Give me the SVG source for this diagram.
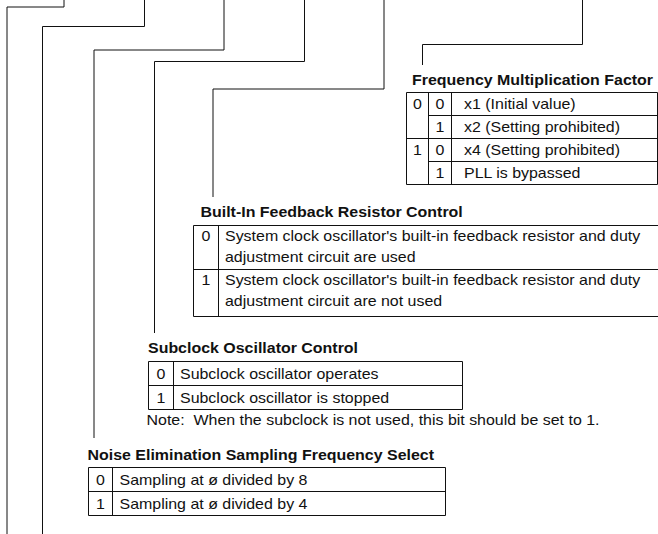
<svg xmlns="http://www.w3.org/2000/svg" width="658" height="534" viewBox="0 0 658 534">
<style>
.t{font-family:"Liberation Sans",Arial,Helvetica,sans-serif;font-size:14px;fill:#111}
.b{font-weight:bold}
.m{text-anchor:middle}
.ln{fill:none;stroke:#111;stroke-width:1}
</style>
<rect width="658" height="534" fill="#fff"/>
<g id="connectors" class="ln">
<path d="M64 0V7H7V534"/>
<path d="M144.5 0V26.5H42.5V534"/>
<path d="M224 0V50H94V438"/>
<path d="M304.5 0V61.5H154.5V333"/>
<path d="M384 0V89H213V197"/>
<path d="M582.5 0V44.5H422.5V65"/>
</g>
<g id="freq-mult">
<text class="t b" transform="translate(412 85) scale(1.14 1)">Frequency Multiplication Factor</text>
<path class="ln" d="M406.5 92.5H657.5V184.5H406.5Z M428.5 92.5V184.5 M451.5 92.5V184.5 M428.5 115.5H657.5 M406.5 138.5H657.5 M428.5 161.5H657.5"/>
<text class="t m" transform="translate(417.5 109) scale(1.14 1)">0</text>
<text class="t m" transform="translate(417.5 155) scale(1.14 1)">1</text>
<text class="t m" transform="translate(440 109) scale(1.14 1)">0</text>
<text class="t m" transform="translate(440 132) scale(1.14 1)">1</text>
<text class="t m" transform="translate(440 155) scale(1.14 1)">0</text>
<text class="t m" transform="translate(440 178) scale(1.14 1)">1</text>
<text class="t" transform="translate(464 109) scale(1.14 1)">x1 (Initial value)</text>
<text class="t" transform="translate(464 132) scale(1.14 1)">x2 (Setting prohibited)</text>
<text class="t" transform="translate(464 155) scale(1.14 1)">x4 (Setting prohibited)</text>
<text class="t" transform="translate(464 178) scale(1.14 1)">PLL is bypassed</text>
</g>
<g id="feedback-resistor">
<text class="t b" transform="translate(200.5 217) scale(1.14 1)">Built-In Feedback Resistor Control</text>
<path class="ln" d="M658 225.5H193.5V316.5H658 M218.5 225.5V316.5 M193.5 269.5H658"/>
<text class="t m" transform="translate(206 241) scale(1.14 1)">0</text>
<text class="t m" transform="translate(206 285) scale(1.14 1)">1</text>
<text class="t" transform="translate(225 241) scale(1.14 1)">System clock oscillator's built-in feedback resistor and duty</text>
<text class="t" transform="translate(225 261.5) scale(1.14 1)">adjustment circuit are used</text>
<text class="t" transform="translate(225 285) scale(1.14 1)">System clock oscillator's built-in feedback resistor and duty</text>
<text class="t" transform="translate(225 305.5) scale(1.14 1)">adjustment circuit are not used</text>
</g>
<g id="subclock">
<text class="t b" transform="translate(148 353) scale(1.14 1)">Subclock Oscillator Control</text>
<path class="ln" d="M148.5 361.5H462.5V409.5H148.5Z M173.5 361.5V409.5 M148.5 385.5H462.5"/>
<text class="t m" transform="translate(161 378.5) scale(1.14 1)">0</text>
<text class="t m" transform="translate(161 402.5) scale(1.14 1)">1</text>
<text class="t" transform="translate(180 378.5) scale(1.14 1)">Subclock oscillator operates</text>
<text class="t" transform="translate(180 402.5) scale(1.14 1)">Subclock oscillator is stopped</text>
<text class="t" xml:space="preserve" transform="translate(146.5 425) scale(1.14 1)">Note:  When the subclock is not used, this bit should be set to 1.</text>
</g>
<g id="noise-elim">
<text class="t b" transform="translate(87.5 459.5) scale(1.14 1)">Noise Elimination Sampling Frequency Select</text>
<path class="ln" d="M88.5 467.5H445.5V515.5H88.5Z M112.5 467.5V515.5 M88.5 491.5H445.5"/>
<text class="t m" transform="translate(100.5 484.5) scale(1.14 1)">0</text>
<text class="t m" transform="translate(100.5 508.5) scale(1.14 1)">1</text>
<text class="t" transform="translate(119.5 484.5) scale(1.14 1)">Sampling at ø divided by 8</text>
<text class="t" transform="translate(119.5 508.5) scale(1.14 1)">Sampling at ø divided by 4</text>
</g>
</svg>
